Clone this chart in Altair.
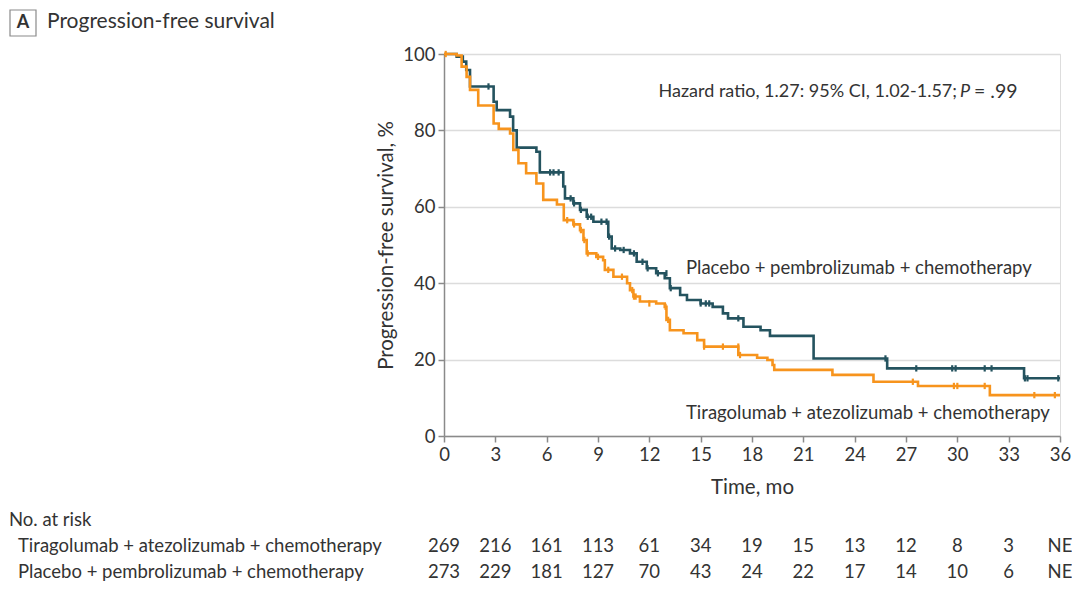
import altair as alt
import pandas as pd

# ---------------- data ----------------
placebo_t = [0, 0.74, 1.1, 1.3, 1.52, 2.9, 3.08, 3.86, 4.04, 4.25, 5.4, 5.6, 6.97, 7.07, 7.56, 7.95,
             8.34, 8.73, 9.6, 9.8, 10.3, 10.87, 11.26, 11.85, 12.4, 12.9, 13.2, 13.8, 14.2, 15.0,
             15.7, 16.3, 16.6, 17.5, 18.5, 19.05, 21.6, 25.9, 33.9, 36]
placebo_s = [100, 99.3, 98, 95.8, 91.5, 87.5, 85.3, 83.6, 80, 75.5, 74.4, 69.0, 65.3, 62.2, 60.9, 59.2,
             57.4, 56.1, 52.2, 49.1, 48.7, 47.8, 45.6, 43.9, 42.6, 41.3, 38.7, 36.9, 35.6, 34.7,
             33.8, 32.1, 30.8, 28.6, 27.7, 26.2, 20.3, 17.7, 15.1, 15.1]
placebo_cens_t = [2.6, 6.2, 6.4, 6.7, 7.4, 7.6, 8.0, 8.4, 8.6, 9.2, 9.5, 9.65, 10.0, 10.5, 11.1, 11.6,
                  11.9, 12.5, 13.0, 13.25, 15.0, 15.3, 15.5, 17.2, 25.8, 27.6, 29.7, 29.9, 31.6,
                  32.0, 33.95, 34.1, 35.9]
placebo_cens_s = [91.5, 69.0, 69.0, 69.0, 62.2, 60.9, 59.2, 57.4, 57.4, 56.1, 56.1, 52.2, 49.1, 48.7,
                  47.8, 45.6, 43.9, 42.6, 42.6, 38.7, 34.7, 34.7, 34.7, 30.8, 20.3, 17.7, 17.7, 17.7,
                  17.7, 17.7, 15.1, 15.1, 15.1]

tira_t = [0, 0.74, 1.03, 1.32, 1.52, 2.0, 2.9, 3.2, 3.86, 4.05, 4.35, 4.8, 5.4, 5.8, 6.6, 7.0, 7.56,
          7.95, 8.15, 8.34, 8.9, 9.3, 9.4, 9.9, 10.7, 10.87, 11.07, 11.45, 12.4, 12.9, 13.0, 13.2,
          14.0, 14.8, 15.2, 17.2, 18.3, 18.9, 19.2, 19.3, 22.7, 25.1, 27.7, 31.9, 36]
tira_s = [100, 99.6, 96.7, 94, 90.6, 86.5, 81.8, 80.4, 79.2, 74.9, 71.4, 68.8, 66.1, 61.8, 60.6, 56.5,
          55.4, 53.9, 51.3, 47.8, 46.9, 46, 43.5, 41.7, 40, 38.2, 36.5, 35.2, 34.7, 33.8, 30.4, 27.7,
          26.9, 25.1, 23.4, 21.2, 20.5, 19.9, 18.6, 17.3, 16.0, 14.2, 13.1, 10.7, 10.7]
tira_cens_t = [0.1, 7.2, 7.6, 8.0, 8.2, 8.4, 9.0, 9.6, 10.4, 11.0, 11.1, 11.2, 12.0, 12.95, 13.1,
               15.2, 16.3, 17.2, 17.3, 27.4, 29.8, 30.0, 31.6, 34.5, 35.7]
tira_cens_s = [100, 56.5, 55.4, 53.9, 51.3, 47.8, 46.9, 43.5, 41.7, 38.2, 36.5, 36.5, 34.7, 33.8, 30.4,
               23.4, 23.4, 23.4, 21.2, 14.2, 13.1, 13.1, 13.1, 10.7, 10.7]

groups = ["Placebo + pembrolizumab + chemotherapy", "Tiragolumab + atezolizumab + chemotherapy"]
colors = ["#24535f", "#f7941d"]

risk_times = [0, 3, 6, 9, 12, 15, 18, 21, 24, 27, 30, 33, 36]
risk_tira = ["269", "216", "161", "113", "61", "34", "19", "15", "13", "12", "8", "3", "NE"]
risk_placebo = ["273", "229", "181", "127", "70", "43", "24", "22", "17", "14", "10", "6", "NE"]

x_ticks = [0, 3, 6, 9, 12, 15, 18, 21, 24, 27, 30, 33, 36]
y_ticks = [0, 20, 40, 60, 80, 100]

FONT = "Lato"
TXT = "#333333"
FS = 18.5
FT = 20.5

# ---------------- frames ----------------
curves = pd.concat([
    pd.DataFrame({"t": placebo_t, "s": placebo_s, "g": groups[0]}),
    pd.DataFrame({"t": tira_t, "s": tira_s, "g": groups[1]}),
])
cens = pd.concat([
    pd.DataFrame({"t": placebo_cens_t, "s": placebo_cens_s, "g": groups[0]}),
    pd.DataFrame({"t": tira_cens_t, "s": tira_cens_s, "g": groups[1]}),
])
risk1 = pd.DataFrame({"t": risk_times, "n": risk_tira})
risk2 = pd.DataFrame({"t": risk_times, "n": risk_placebo})

W, H = 616, 382

xscale = alt.Scale(domain=[0, 36], nice=False)
yscale = alt.Scale(domain=[0, 100], nice=False)
cscale = alt.Scale(domain=groups, range=colors)

xenc = alt.X("t:Q", scale=xscale, axis=alt.Axis(
    values=x_ticks, title="Time, mo", grid=False, labelFontSize=FS, titleFontSize=FT,
    labelFont=FONT, titleFont=FONT, labelColor=TXT, titleColor=TXT, titleFontWeight="normal",
    domainColor="#8a8a8a", domainWidth=1.5, tickColor="#8a8a8a", tickWidth=1.5, tickSize=6,
    labelPadding=3, titlePadding=14, labelFlush=False))
yenc = alt.Y("s:Q", scale=yscale, axis=alt.Axis(
    values=y_ticks, title="Progression-free survival, %", grid=True, gridColor="#dcdcdc",
    gridWidth=1.5, labelFontSize=FS, titleFontSize=FT, labelFont=FONT, titleFont=FONT,
    labelColor=TXT, titleColor=TXT, titleFontWeight="normal", domainColor="#8a8a8a",
    domainWidth=1.5, tickColor="#8a8a8a", tickWidth=1.5, tickSize=6, labelPadding=3,
    titlePadding=6, labelFlush=False))

lines = alt.Chart(curves).mark_line(interpolate="step-after", strokeWidth=2.6).encode(
    x=xenc, y=yenc, color=alt.Color("g:N", scale=cscale, legend=None), detail="g:N")

ticks = alt.Chart(cens).mark_point(shape="M0,-1L0,1", size=40, strokeWidth=2.2, filled=False,
                                   opacity=1).encode(
    x="t:Q", y="s:Q", color=alt.Color("g:N", scale=cscale, legend=None))


def txt(text, x, y, align="left", size=FS, style="normal", weight="normal", color=TXT):
    return alt.Chart(pd.DataFrame({"a": [0]})).mark_text(
        text=text, align=align, baseline="middle", font=FONT, fontSize=size, fontStyle=style,
        fontWeight=weight, color=color).encode(x=alt.value(x), y=alt.value(y))


annotations = [
    txt("Hazard ratio, 1.27: 95% CI, 1.02-1.57; ", 513, 38, align="right", size=18),
    txt("P", 526, 38, align="right", style="italic", size=18),
    txt("= .99", 530, 38, align="left", size=19.5),
    txt(groups[0], 242, 214),
    txt(groups[1], 242, 359),
    txt("No. at risk", -435, 466),
    txt(groups[1], -426, 492),
    txt(groups[0], -426, 518),
    txt("Progression-free survival", -397, -32, size=21),
    txt("A", -421, -31, align="center", size=18, weight="bold"),
]

box = alt.Chart(pd.DataFrame({"a": [0]})).mark_rect(
    fill="white", stroke="#8a8a8a", strokeWidth=1.2).encode(
    x=alt.value(-434), x2=alt.value(-408), y=alt.value(-44), y2=alt.value(-18))

r1 = alt.Chart(risk1).mark_text(align="center", baseline="middle", font=FONT, fontSize=FS,
                                color=TXT).encode(x=alt.X("t:Q"), y=alt.value(492), text="n:N")
r2 = alt.Chart(risk2).mark_text(align="center", baseline="middle", font=FONT, fontSize=FS,
                                color=TXT).encode(x=alt.X("t:Q"), y=alt.value(518), text="n:N")

chart = alt.layer(lines, ticks, box, r1, r2, *annotations).properties(
    width=W, height=H,
    autosize=alt.AutoSizeParams(type="none"),
    padding={"left": 436, "top": 46, "right": 12, "bottom": 150},
).configure_view(stroke=None).configure(background="white")

chart.save("out.html", embed_options={"renderer": "svg", "actions": False})
